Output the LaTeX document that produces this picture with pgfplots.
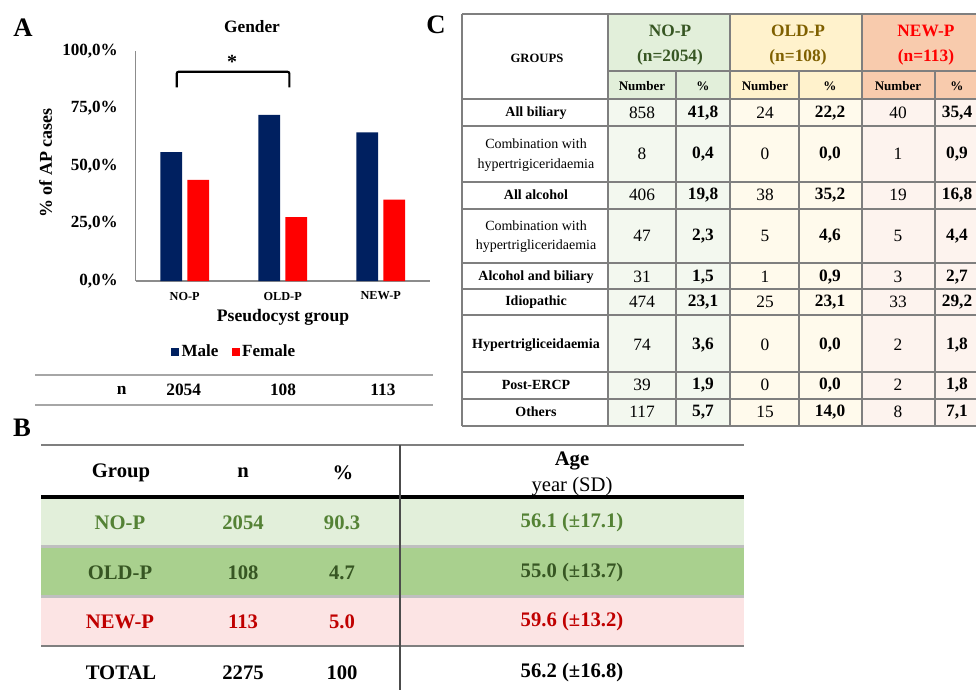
\documentclass[border=0pt]{standalone}
\usepackage{pgfplots}
\pgfplotsset{compat=1.18}
\usepackage{fontspec}
\setmainfont{Liberation Serif}

\definecolor{male}{HTML}{002060}
\definecolor{female}{HTML}{FF0000}
\definecolor{axgray}{HTML}{8C8C8C}
\definecolor{lgray}{HTML}{BFBFBF}
\definecolor{mgray}{HTML}{A6A6A6}
\definecolor{tgray}{HTML}{7F7F7F}
\definecolor{grn}{HTML}{548235}
\definecolor{dgrn}{HTML}{375623}
\definecolor{dred}{HTML}{C00000}
\definecolor{olive}{HTML}{7F6000}
\definecolor{bandA}{HTML}{E2EFDA}
\definecolor{bandB}{HTML}{A9D08E}
\definecolor{bandC}{HTML}{FCE4E4}
\definecolor{hdrA}{HTML}{E2EFDA}
\definecolor{hdrB}{HTML}{FFF2CC}
\definecolor{hdrC}{HTML}{F8CBAD}
\definecolor{celA}{HTML}{F3F8EF}
\definecolor{celB}{HTML}{FFFAEC}
\definecolor{celC}{HTML}{FDF3EE}

\newcommand{\fs}[1]{\fontsize{#1}{#1}\selectfont}

% gender share per pseudocyst group (%)
\pgfplotstableread{
grp male female
0 56.0 44.0
1 72.2 27.8
2 64.6 35.4
}\gender

\begin{document}
\begin{tikzpicture}
\path[use as bounding box] (0,0) rectangle (732pt,-517.5pt);

% ---- panel A: bar chart
\begin{axis}[
  at={(101.8pt,-210.75pt)}, anchor=south west,
  scale only axis, width=220.5pt, height=172.5pt,
  xmin=-0.5, xmax=2.5, ymin=0, ymax=100,
  axis x line=bottom, axis y line=left,
  axis line style={-, draw=axgray, line width=0.8pt},
  every outer x axis line/.append style={-},
  every outer y axis line/.append style={-},
  xtick={0,1,2}, xticklabels={NO-P,OLD-P,NEW-P},
  ytick={0,25,50,75,100},
  major tick length=0pt,
  tick style={draw=none},
  /pgf/number format/assume math mode=true,
  yticklabel={\pgfmathprintnumber[fixed,fixed zerofill,precision=1,use comma]{\tick}\%},
  yticklabel style={font=\bfseries\fs{12.8}, inner sep=0pt, xshift=-13.3pt},
  xticklabel style={font=\bfseries\fs{9.2}, inner sep=0pt, yshift=-8pt},
  legend style={at={(0.336,-0.309)}, anchor=center, draw=none, fill=none,
    legend columns=2, font=\bfseries\fs{12.8},
    /tikz/every even column/.append style={column sep=8pt}},
  legend image code/.code={\fill[#1] (0pt,-3pt) rectangle (5.8pt,3.2pt);},
  clip=false,
]
\addplot[fill=male, draw=none, ybar, bar width=0.221, bar shift=-0.138] table[x=grp,y=male]{\gender};
\addlegendentry{Male}
\addplot[fill=female, draw=none, ybar, bar width=0.221, bar shift=0.138] table[x=grp,y=female]{\gender};
\addlegendentry{Female}
\draw[line width=1.6pt, rounded corners=1.5pt] (axis cs:-0.082,84.2) -- (axis cs:-0.082,91) -- (axis cs:1.068,91) -- (axis cs:1.068,84.2);
\node[font=\bfseries\fs{15}] at (axis cs:0.483,95.3) {*};
\end{axis}

\begin{scope}[x=0.75pt,y=-0.75pt]
% panel A texts
\node[font=\bfseries\fs{20}] at (23,28) {A};
\node[font=\bfseries\fs{13}] at (252,27) {Gender};
\node[font=\bfseries\fs{13.5}, rotate=90] at (45.7,163) {\% of AP cases};
\node[font=\bfseries\fs{13.2}] at (283,317) {Pseudocyst group};
\draw[mgray, line width=1.1] (35,375) -- (433,375);
\draw[mgray, line width=1.1] (35,405) -- (433,405);
\begin{scope}[every node/.style={font=\bfseries\fs{13}}]
\node at (121.7,390) {n};
\node at (183.7,390) {2054};
\node at (283,390) {108};
\node at (383,390) {113};
\end{scope}

% ---- panel B
\node[font=\bfseries\fs{20}] at (22,428) {B};
\fill[bandA] (41,497) rectangle (744,546);
\fill[bandB] (41,547) rectangle (744,596);
\fill[bandC] (41,597) rectangle (744,645);
\draw[tgray, line width=1.2] (41,445) -- (744,445);
\draw[lgray, line width=2] (41,546.5) -- (744,546.5);
\draw[lgray, line width=2] (41,596.5) -- (744,596.5);
\draw[black, line width=3] (41,497) -- (744,497);
\draw[tgray, line width=2] (41,646) -- (744,646);
\draw[black!70, line width=1.2] (400,445) -- (400,690);
\begin{scope}[every node/.style={font=\bfseries\fs{15.5}}]
\node at (121,473) {Group};
\node at (243,473) {n};
\node at (343,473) {\%};
\node at (572,461) {Age};
\node[font=\fs{15.5}] at (572,487) {year (SD)};
\node[grn] at (120,523) {NO-P};
\node[grn] at (243,523) {2054};
\node[grn] at (342,523) {90.3};
\node[grn] at (572,523) {56.1 (±17.1)};
\node[dgrn] at (120,573) {OLD-P};
\node[dgrn] at (243,573) {108};
\node[dgrn] at (342,573) {4.7};
\node[dgrn] at (572,573) {55.0 (±13.7)};
\node[dred] at (120,622) {NEW-P};
\node[dred] at (243,622) {113};
\node[dred] at (342,622) {5.0};
\node[dred] at (572,622) {59.6 (±13.2)};
\node at (121,673) {TOTAL};
\node at (243,673) {2275};
\node at (342,673) {100};
\node at (572,673) {56.2 (±16.8)};
\end{scope}

% ---- panel C
\node[font=\bfseries\fs{20}] at (436,25) {C};
\begin{scope}
\clip (0,0) rectangle (976,690);
\fill[hdrA] (608,14) rectangle (730,99);
\fill[celA] (608,99) rectangle (730,426);
\fill[hdrB] (730,14) rectangle (862,99);
\fill[celB] (730,99) rectangle (862,426);
\fill[hdrC] (862,14) rectangle (1000,99);
\fill[celC] (862,99) rectangle (1000,426);
\begin{scope}[tgray, line width=1.3]
\draw (462,14) -- (1000,14);
\draw (608,71) -- (1000,71);
\foreach \yy in {99,126,182,209,263,289,315,372,399,426}
  \draw (462,\yy) -- (1000,\yy);
\foreach \xx in {462,608,730,862}
  \draw (\xx,14) -- (\xx,426);
\foreach \xx in {676,799,935}
  \draw (\xx,71) -- (\xx,426);
\end{scope}
% headers
\node[font=\bfseries\fs{9.5}] at (537,58) {GROUPS};
\node[font=\bfseries\fs{13}, dgrn] at (670,31) {NO-P};
\node[font=\bfseries\fs{13}, dgrn] at (670,57) {(n=2054)};
\node[font=\bfseries\fs{13}, olive] at (798,31) {OLD-P};
\node[font=\bfseries\fs{13}, olive] at (798,57) {(n=108)};
\node[font=\bfseries\fs{13}, female] at (926,31) {NEW-P};
\node[font=\bfseries\fs{13}, female] at (926,57) {(n=113)};
\begin{scope}[every node/.style={font=\bfseries\fs{9.8}}]
\node at (642,86) {Number};
\node at (703,86) {\%};
\node at (765,86) {Number};
\node at (830,86) {\%};
\node at (898,86) {Number};
\node at (957,86) {\%};
\end{scope}
% row labels
\begin{scope}[every node/.style={font=\bfseries\fs{10.5}}]
\node at (536,113) {All biliary};
\node at (536,195) {All alcohol};
\node at (536,277) {Alcohol and biliary};
\node at (536,302) {Idiopathic};
\node at (536,345) {Hypertrigliceidaemia};
\node at (536,385) {Post-ERCP};
\node at (536,412) {Others};
\end{scope}
\begin{scope}[every node/.style={font=\fs{10.5}}]
\node at (536,144) {Combination with};
\node at (536,165) {hypertrigiceridaemia};
\node at (536,226) {Combination with};
\node at (536,246) {hypertrigliceridaemia};
\end{scope}
% numbers
\begin{scope}[every node/.style={font=\fs{13}}]
\foreach \yy/\a/\b/\c in {113/858/24/40, 154/8/0/1, 195/406/38/19, 236/47/5/5,
    277/31/1/3, 302/474/25/33, 345/74/0/2, 385/39/0/2, 412/117/15/8}{
  \node at (642,\yy) {\a};
  \node at (765,\yy) {\b};
  \node at (898,\yy) {\c};
}
\end{scope}
\begin{scope}[every node/.style={font=\bfseries\fs{13}}]
\foreach \yy/\a/\b/\c in {113/{41,8}/{22,2}/{35,4}, 154/{0,4}/{0,0}/{0,9},
    195/{19,8}/{35,2}/{16,8}, 236/{2,3}/{4,6}/{4,4}, 277/{1,5}/{0,9}/{2,7},
    302/{23,1}/{23,1}/{29,2}, 345/{3,6}/{0,0}/{1,8}, 385/{1,9}/{0,0}/{1,8},
    412/{5,7}/{14,0}/{7,1}}{
  \node at (703,\yy) {\a};
  \node at (830,\yy) {\b};
  \node at (957,\yy) {\c};
}
\end{scope}
\end{scope}
\end{scope}
\end{tikzpicture}
\end{document}
